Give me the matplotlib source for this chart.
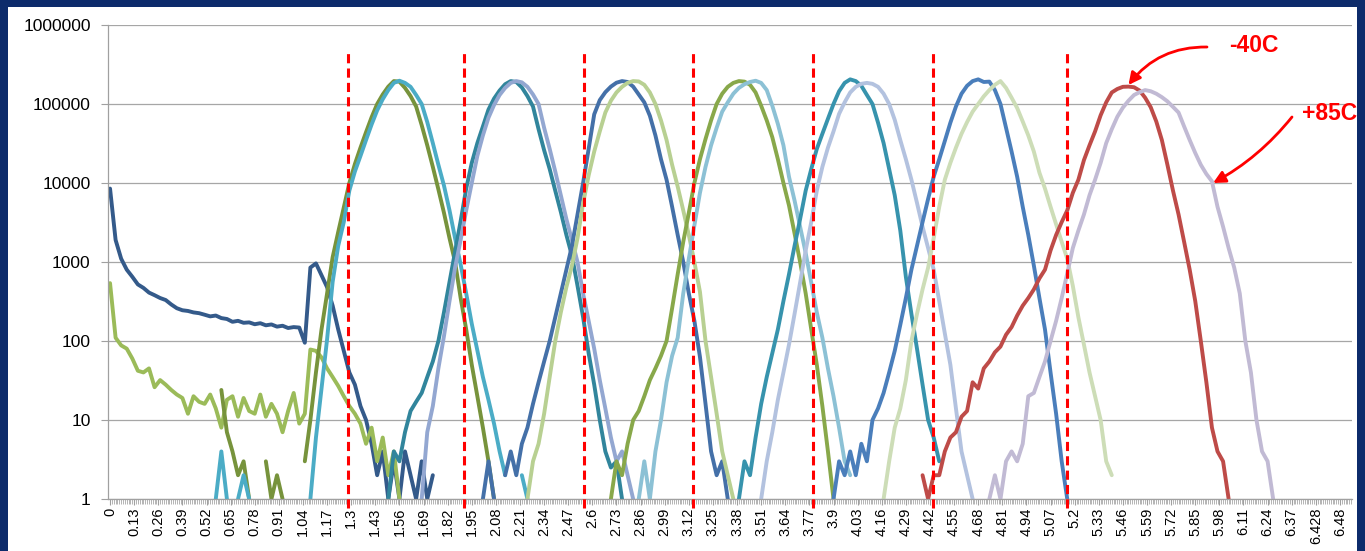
import numpy as np
import matplotlib
matplotlib.use("Agg")
import matplotlib.pyplot as plt
from matplotlib.patches import Rectangle
from matplotlib.ticker import FixedLocator, NullLocator, FuncFormatter

plt.rcParams["font.family"] = ["Liberation Sans", "DejaVu Sans"]

# values every 0.03 along the x axis
STEP = 0.03

x_labels = ["0", "0.13", "0.26", "0.39", "0.52", "0.65", "0.78", "0.91", "1.04", "1.17",
            "1.3", "1.43", "1.56", "1.69", "1.82", "1.95", "2.08", "2.21", "2.34", "2.47",
            "2.6", "2.73", "2.86", "2.99", "3.12", "3.25", "3.38", "3.51", "3.64", "3.77",
            "3.9", "4.03", "4.16", "4.29", "4.42", "4.55", "4.68", "4.81", "4.94", "5.07",
            "5.2", "5.33", "5.46", "5.59", "5.72", "5.85", "5.98", "6.11", "6.24", "6.37",
            "6.428", "6.48"]
y_ticks = [1, 10, 100, 1000, 10000, 100000, 1000000]
read_levels = [1.283, 1.908, 2.555, 3.143, 3.790, 4.437, 5.159]

# erased state tails (start at x = 0)
erase_cold_x0 = 0.00
erase_cold = [8500, 1900, 1100, 800, 650, 520, 470, 410, 380, 350, 330, 290, 260, 245, 240,
              230, 225, 215, 205, 210, 195, 190, 175, 180, 170, 172, 163, 168, 158, 162,
              152, 156, 146, 150, 148, 95, 850, 960, 680, 480, 280, 140, 75, 40, 28, 15,
              10, 5, 2, 4, 1, 3, 1, 4, 2, 1, 3, 1, 2]
erase_hot_x0 = 0.00
erase_hot = [540, 110, 88, 80, 60, 42, 40, 45, 26, 32, 28, 24, 21, 19, 12, 20, 17, 16, 21, 14,
             8, 18, 20, 11, 19, 13, 12, 21, 11, 16, 12, 7, 13, 22, 9, 12, 78, 75, 62, 45,
             35, 27, 20, 15, 12, 9, 5, 8, 3, 6, 2, 4, 1]

# programmed states, -40C (cold) and +85C (hot)
p1_cold_x0 = 0.60
p1_cold = [24, 7, 4, 2, 3, 1, 0, 0, 3, 1, 2, 1, 0, 0, 0, 3, 10, 40, 140, 400, 1150, 2400,
           4900, 10000, 17400, 28000, 44000, 68000, 100000, 132000, 166000, 195000, 192000,
           160000, 126000, 93000, 54000, 30000, 16000, 8300, 4200, 2000, 1000, 350, 140, 50,
           20, 8, 3, 1]
p1_hot_x0 = 0.57
p1_hot = [1, 4, 1, 0, 1, 2, 1, 0, 0, 0, 0, 0, 0, 0, 0, 0, 0, 1, 6, 25, 105, 560, 1600, 3200,
          8000, 14000, 22000, 35000, 55000, 83000, 115000, 150000, 185000, 197000, 185000,
          165000, 130000, 100000, 59000, 32000, 17000, 9300, 4500, 2000, 930, 400, 165, 76,
          35, 18, 9, 4, 2, 0, 0, 2, 1]
p2_cold_x0 = 1.50
p2_cold = [1, 4, 3, 7, 13, 17, 22, 35, 55, 100, 230, 560, 1350, 3300, 8500, 18000, 32000,
           52000, 85000, 117000, 148000, 178000, 195000, 190000, 162000, 126000, 93000,
           48000, 26000, 15000, 8000, 4300, 2200, 1200, 500, 200, 70, 28, 10, 4, 2.5, 3, 1]
p2_hot_x0 = 1.68
p2_hot = [1, 7, 15, 45, 115, 320, 850, 1900, 4500, 10000, 22000, 40000, 67000, 97000, 130000,
          160000, 185000, 195000, 188000, 165000, 132000, 100000, 50000, 27000, 14000, 7000,
          3500, 1900, 1000, 400, 180, 80, 32, 14, 6, 3, 4, 2, 1]
p3_cold_x0 = 2.01
p3_cold = [1, 3, 1, 0, 2, 4, 2, 5, 8, 16, 30, 55, 100, 200, 400, 800, 1600, 4000, 10000,
           27000, 74000, 112000, 141000, 166000, 186000, 195000, 190000, 166000, 132000,
           105000, 71000, 40000, 20000, 11000, 5000, 2200, 1000, 400, 180, 63, 16, 4, 2, 3, 1]
p3_hot_x0 = 2.25
p3_hot = [1, 3, 5, 12, 35, 100, 230, 480, 900, 2000, 5500, 12500, 25000, 45000, 78000,
          110000, 140000, 165000, 185000, 195000, 193000, 175000, 140000, 100000, 62000,
          35000, 17000, 9000, 4500, 2200, 1000, 420, 100, 35, 12, 4, 2, 1]
p4_cold_x0 = 2.70
p4_cold = [1, 3, 2, 5, 10, 13, 20, 32, 45, 65, 100, 260, 700, 1800, 4200, 10000, 20000, 36000,
           62000, 100000, 135000, 165000, 185000, 195000, 192000, 175000, 140000, 95000,
           62000, 38000, 20000, 10000, 5200, 2300, 1000, 400, 140, 50, 15, 4, 1]
p4_hot_x0 = 2.85
p4_hot = [1, 3, 1, 4, 10, 30, 65, 110, 400, 1100, 2900, 7500, 16000, 30000, 50000, 80000,
          105000, 135000, 160000, 178000, 190000, 197000, 185000, 150000, 95000, 56000,
          30000, 12000, 6000, 2800, 1300, 550, 230, 110, 45, 20, 8, 3, 2]
p5_cold_x0 = 3.39
p5_cold = [1, 3, 2, 6, 16, 35, 70, 140, 320, 700, 1600, 3500, 8000, 15000, 27000, 42000,
           65000, 100000, 145000, 185000, 205000, 195000, 170000, 130000, 100000, 58000,
           32000, 15000, 7000, 2500, 650, 220, 80, 28, 10, 6, 3]
p5_hot_x0 = 3.51
p5_hot = [1, 3, 7, 18, 40, 90, 220, 550, 1400, 3200, 8000, 16000, 28000, 45000, 75000,
          105000, 140000, 165000, 180000, 185000, 180000, 165000, 135000, 100000, 63000,
          35000, 20000, 11000, 5600, 2800, 1500, 800, 320, 125, 50, 14, 4, 2, 1]
p6_cold_x0 = 3.90
p6_cold = [1, 3, 2, 4, 2, 5, 3, 10, 14, 22, 40, 75, 160, 350, 800, 1600, 3200, 6300, 12000,
           20000, 34000, 58000, 93000, 135000, 170000, 195000, 205000, 190000, 192000,
           150000, 100000, 50000, 25000, 12000, 5000, 2200, 900, 350, 140, 40, 12, 3, 1]
p6_hot_x0 = 4.17
p6_hot = [1, 3, 8, 14, 32, 100, 220, 450, 850, 2000, 5000, 11000, 18000, 28000, 42000, 59000,
          80000, 100000, 125000, 150000, 175000, 195000, 160000, 120000, 89000, 60000, 40000,
          25000, 13500, 8500, 5000, 3000, 1800, 1100, 500, 200, 90, 40, 20, 10, 3, 2]
p7_cold_x0 = 4.38
p7_cold = [2, 1, 2, 2, 4, 6, 7, 11, 13, 30, 25, 45, 55, 72, 85, 120, 150, 210, 280, 350, 450,
           620, 800, 1400, 2200, 3200, 4500, 7500, 11000, 19500, 30000, 45000, 72000, 105000,
           140000, 155000, 165000, 166000, 163000, 148000, 120000, 91000, 60000, 35000,
           17000, 8000, 4000, 1800, 800, 320, 100, 30, 8, 4, 3, 1]
p7_hot_x0 = 4.74
p7_hot = [1, 2, 1, 3, 4, 3, 5, 20, 22, 35, 55, 100, 180, 350, 720, 1500, 2500, 4000, 7000,
          11000, 18000, 32000, 48000, 69000, 90000, 110000, 130000, 141000, 150000, 145000,
          135000, 122000, 108000, 92000, 78000, 52000, 35000, 24000, 17000, 13000, 10500,
          5000, 2800, 1500, 850, 400, 100, 40, 10, 4, 3, 1]

series = [
    (erase_cold_x0, erase_cold, "#345a8a"),
    (erase_hot_x0, erase_hot, "#9bbb59"),
    (p1_cold_x0, p1_cold, "#77933c"),
    (p1_hot_x0, p1_hot, "#4bacc6"),
    (p2_cold_x0, p2_cold, "#31859c"),
    (p2_hot_x0, p2_hot, "#93a7d1"),
    (p3_cold_x0, p3_cold, "#4470a8"),
    (p3_hot_x0, p3_hot, "#b8d092"),
    (p4_cold_x0, p4_cold, "#88a84a"),
    (p4_hot_x0, p4_hot, "#8cc1d5"),
    (p5_cold_x0, p5_cold, "#3793ad"),
    (p5_hot_x0, p5_hot, "#b3c2df"),
    (p6_cold_x0, p6_cold, "#4a7ebb"),
    (p6_hot_x0, p6_hot, "#cdddb7"),
    (p7_cold_x0, p7_cold, "#be4b48"),
    (p7_hot_x0, p7_hot, "#c1bad4"),
]

W, H = 1365, 551
fig = plt.figure(figsize=(W / 100, H / 100), dpi=100, facecolor="#0d2b6b")
fig.patches.append(Rectangle((8 / W, 0), (1357 - 8) / W, (H - 7) / H,
                             transform=fig.transFigure, facecolor="white",
                             edgecolor="none", zorder=-1))
ax = fig.add_axes([108 / W, 52 / H, 1244 / W, 474 / H])
ax.set_facecolor("white")

for x0, vals, color in series:
    y = np.asarray(vals, dtype=float)
    x = x0 + STEP * np.arange(len(y))
    ax.plot(x, y, color=color, lw=2.8, solid_joinstyle="round", solid_capstyle="round")

ax.set_yscale("log", nonpositive="mask")
ax.set_ylim(1, 1e6)
ax.set_xlim(-0.011, 6.695)

for xv in read_levels:
    ax.axvline(xv, ymin=-0.019, ymax=0.947, color="red", lw=2.2, dashes=(3, 1.7),
               clip_on=False, zorder=5)

ax.set_yticks(y_ticks)
ax.yaxis.set_major_formatter(FuncFormatter(lambda v, p: f"{int(round(v))}"))
ax.yaxis.set_minor_locator(NullLocator())
ax.set_xticks(np.arange(len(x_labels)) * 0.13)
ax.set_xticklabels(x_labels, rotation=90)
ax.xaxis.set_minor_locator(FixedLocator(np.arange(0, 6.70, 0.01)))

ax.tick_params(axis="y", which="major", length=5, width=0.8, color="#a0a0a0",
               labelsize=12.5, pad=7.5, labelcolor="black")
ax.tick_params(axis="x", which="major", length=4.5, width=0.8, color="#a0a0a0",
               labelsize=10.5, pad=1.5, labelcolor="black")
ax.tick_params(axis="x", which="minor", length=3.5, width=0.6, color="#a8a8a8")

ax.yaxis.grid(True, color="#a6a6a6", lw=0.9)
ax.set_axisbelow(True)
for s in ("top", "right"):
    ax.spines[s].set_visible(False)
for s in ("left", "bottom"):
    ax.spines[s].set_color("#a0a0a0")
    ax.spines[s].set_linewidth(0.9)

# temperature call-outs
arrow = dict(arrowstyle="-|>", color="red", lw=2, mutation_scale=18, shrinkA=0, shrinkB=0)
ax.annotate("", xy=(5.49, 174000), xycoords="data",
            xytext=(1207 / W, 1 - 47 / H), textcoords="figure fraction",
            arrowprops=dict(arrow, connectionstyle="arc3,rad=0.25"), annotation_clip=False)
ax.annotate("", xy=(5.946, 10000), xycoords="data",
            xytext=(1292 / W, 1 - 117 / H), textcoords="figure fraction",
            arrowprops=dict(arrow, connectionstyle="arc3,rad=-0.1"), annotation_clip=False)
fig.text(1254 / W, 1 - 46 / H, "-40C", ha="center", va="center", color="red",
         fontsize=16.5, fontweight="bold")
fig.text(1330 / W, 1 - 114 / H, "+85C", ha="center", va="center", color="red",
         fontsize=16.5, fontweight="bold")

fig.savefig("out.png", dpi=100, facecolor=fig.get_facecolor())
